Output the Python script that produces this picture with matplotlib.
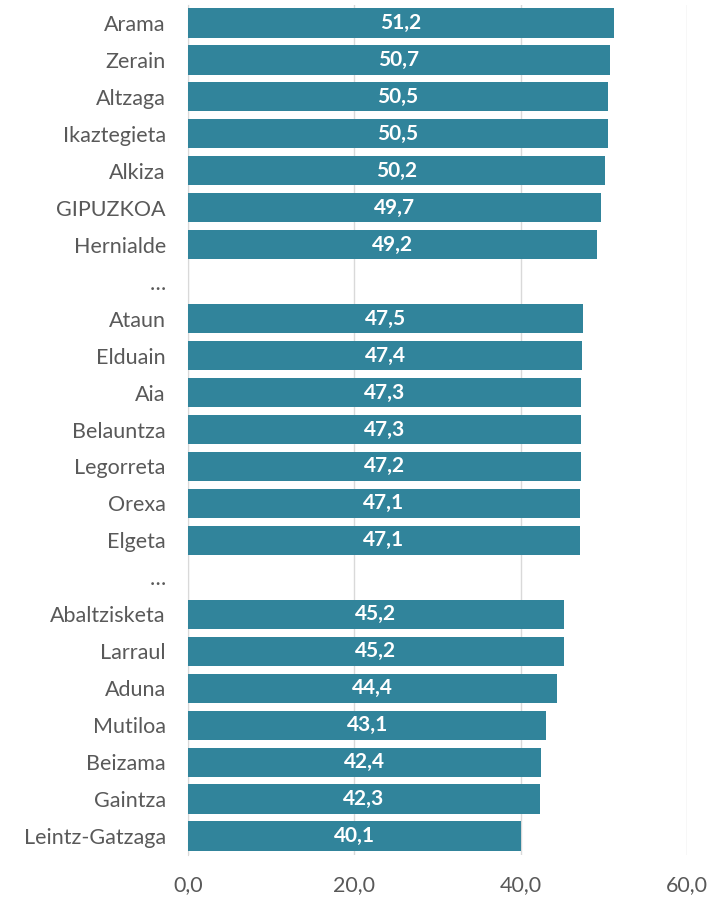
import numpy as np
import matplotlib.pyplot as plt

# municipalities top to bottom; "…" rows have no bar
names = ["Arama", "Zerain", "Altzaga", "Ikaztegieta", "Alkiza", "GIPUZKOA", "Hernialde",
         "…",
         "Ataun", "Elduain", "Aia", "Belauntza", "Legorreta", "Orexa", "Elgeta",
         "…",
         "Abaltzisketa", "Larraul", "Aduna", "Mutiloa", "Beizama", "Gaintza", "Leintz-Gatzaga"]
values = [51.2, 50.7, 50.5, 50.5, 50.2, 49.7, 49.2,
          None,
          47.5, 47.4, 47.3, 47.3, 47.2, 47.1, 47.1,
          None,
          45.2, 45.2, 44.4, 43.1, 42.4, 42.3, 40.1]
ticks = [0, 20, 40, 60]

plt.rcParams['font.family'] = ['Lato', 'DejaVu Sans']

fig = plt.figure(figsize=(7.2, 8.99), dpi=100)
ax = fig.add_axes([188/720, 1 - 854.5/899, (687 - 188)/720, (854.5 - 4.5)/899])

bar_color = "#31849B"
y = np.arange(len(names))
for i, v in enumerate(values):
    if v is None:
        continue
    ax.barh(i, v, height=0.79, color=bar_color, zorder=3)
    ax.text(v / 2, i, f"{v:.1f}".replace(".", ","), ha="center", va="center",
            color="white", fontsize=15, fontweight="bold", zorder=4)

ax.set_ylim(len(names) - 0.5, -0.5)
ax.set_xlim(0, 60)
ax.set_yticks(y)
ax.set_yticklabels(names, fontsize=15.5, color="#595959")
ax.set_xticks(ticks)
ax.set_xticklabels([f"{t:.1f}".replace(".", ",") for t in ticks], fontsize=15.5, color="#595959")
ax.tick_params(axis="both", length=0)
ax.tick_params(axis="x", pad=15)
ax.tick_params(axis="y", pad=16)

ax.grid(axis="x", color="#D9D9D9", linewidth=1, zorder=0)
for s in ["top", "right", "bottom"]:
    ax.spines[s].set_visible(False)
ax.spines["left"].set_color("#D9D9D9")

fig.savefig("out.png", dpi=100)
